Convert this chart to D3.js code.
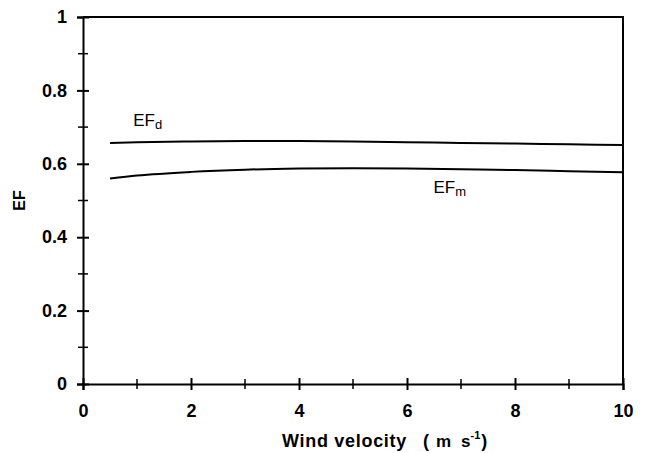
<!DOCTYPE html>
<html>
<head>
<meta charset="utf-8">
<script src="https://cdn.jsdelivr.net/npm/d3@7"></script>
<style>
  body { margin: 0; background: #fff; }
  svg { display: block; font-family: "Liberation Sans", Arial, sans-serif; }
  .tick text { font-size: 18px; font-weight: bold; fill: #000; }
  .domain, .tick line { stroke: #000; stroke-width: 2; }
</style>
</head>
<body>
<div class="chart"></div>
<script>
// wind velocity (m s-1) sampled along the curves
var windSpeed = [0.5, 1, 2, 3, 4, 5, 6, 7, 8, 9, 10];
// EF_d curve values
var efD = [0.657, 0.659, 0.661, 0.662, 0.662, 0.661, 0.659, 0.657, 0.655, 0.653, 0.651];
// EF_m curve values
var efM = [0.560, 0.568, 0.578, 0.584, 0.587, 0.588, 0.587, 0.585, 0.583, 0.580, 0.577];

var xTicks = [0, 2, 4, 6, 8, 10];
var yTicks = [0, 0.2, 0.4, 0.6, 0.8, 1];
var xMinor = [1, 3, 5, 7, 9];
var yMinor = [0.1, 0.3, 0.5, 0.7, 0.9];

// svg size and margins
var svgWidth = 648;
var svgHeight = 453;
var margin = { top: 17, right: 25, bottom: 69, left: 83 };
var chartWidth = svgWidth - margin.left - margin.right;
var chartHeight = svgHeight - margin.top - margin.bottom;

var svg = d3.select(".chart")
  .append("svg")
  .attr("width", svgWidth)
  .attr("height", svgHeight);

var chartGroup = svg.append("g")
  .attr("transform", `translate(${margin.left}, ${margin.top})`);

var xScale = d3.scaleLinear().domain([0, 10]).range([0, chartWidth]);
var yScale = d3.scaleLinear().domain([0, 1]).range([chartHeight, 0]);

// frame: top and right borders
chartGroup.append("path")
  .attr("d", `M0,0H${chartWidth}V${chartHeight}`)
  .attr("fill", "none")
  .attr("stroke", "#000")
  .attr("stroke-width", 2);

// minor ticks (cross the axis line)
chartGroup.selectAll(".xminor")
  .data(xMinor)
  .enter()
  .append("line")
  .attr("x1", d => xScale(d))
  .attr("x2", d => xScale(d))
  .attr("y1", chartHeight - 5)
  .attr("y2", chartHeight + 5)
  .attr("stroke", "#000")
  .attr("stroke-width", 1.5);

chartGroup.selectAll(".yminor")
  .data(yMinor)
  .enter()
  .append("line")
  .attr("x1", -5)
  .attr("x2", 5)
  .attr("y1", d => yScale(d))
  .attr("y2", d => yScale(d))
  .attr("stroke", "#000")
  .attr("stroke-width", 1.5);

// x axis
var bottomAxis = d3.axisBottom(xScale)
  .tickValues(xTicks)
  .tickFormat(d3.format("d"))
  .tickSizeOuter(0)
  .tickSize(6)
  .tickPadding(14);

var xAxis = chartGroup.append("g")
  .attr("transform", `translate(0, ${chartHeight})`)
  .call(bottomAxis);
xAxis.selectAll(".tick line").attr("y1", -6);

// y axis
var leftAxis = d3.axisLeft(yScale)
  .tickValues(yTicks)
  .tickFormat(d => d === 0 || d === 1 ? d3.format("d")(d) : d3.format(".1f")(d))
  .tickSizeOuter(0)
  .tickSize(6)
  .tickPadding(10);

var yAxis = chartGroup.append("g").call(leftAxis);
yAxis.selectAll(".tick line").attr("x1", 6);

// curves
var line = d3.line()
  .x((d, i) => xScale(windSpeed[i]))
  .y(d => yScale(d))
  .curve(d3.curveMonotoneX);

[efD, efM].forEach(function(series) {
  chartGroup.append("path")
    .datum(series)
    .attr("d", line)
    .attr("fill", "none")
    .attr("stroke", "#000")
    .attr("stroke-width", 2);
});

// curve labels
var dLabel = chartGroup.append("text")
  .attr("x", xScale(0.93))
  .attr("y", yScale(0.704))
  .attr("font-size", 17);
dLabel.append("tspan").text("EF");
dLabel.append("tspan").attr("font-size", 13).attr("dy", 3).text("d");

var mLabel = chartGroup.append("text")
  .attr("x", xScale(6.49))
  .attr("y", yScale(0.521))
  .attr("font-size", 17);
mLabel.append("tspan").text("EF");
mLabel.append("tspan").attr("font-size", 13).attr("dy", 3).text("m");

// y-axis title
svg.append("text")
  .attr("transform", `translate(25, ${margin.top + yScale(0.5)}) rotate(-90)`)
  .attr("text-anchor", "middle")
  .attr("font-size", 16)
  .attr("font-weight", "bold")
  .text("EF");

// x-axis title (wide spacing like the scanned original)
var xTitle = svg.append("text")
  .attr("x", 282)
  .attr("y", 447)
  .attr("font-weight", "bold");
xTitle.append("tspan")
  .attr("font-size", 18)
  .attr("letter-spacing", 0.7)
  .text("Wind velocity");
xTitle.append("tspan").attr("x", 423).attr("font-size", 18).text("(");
xTitle.append("tspan").attr("x", 436).attr("font-size", 17).text("m");
xTitle.append("tspan").attr("x", 461).attr("font-size", 17).text("s");
xTitle.append("tspan").attr("font-size", 11).attr("dy", -8).text("-1");
xTitle.append("tspan").attr("dx", 1).attr("font-size", 18).attr("dy", 8).text(")");
</script>
</body>
</html>
